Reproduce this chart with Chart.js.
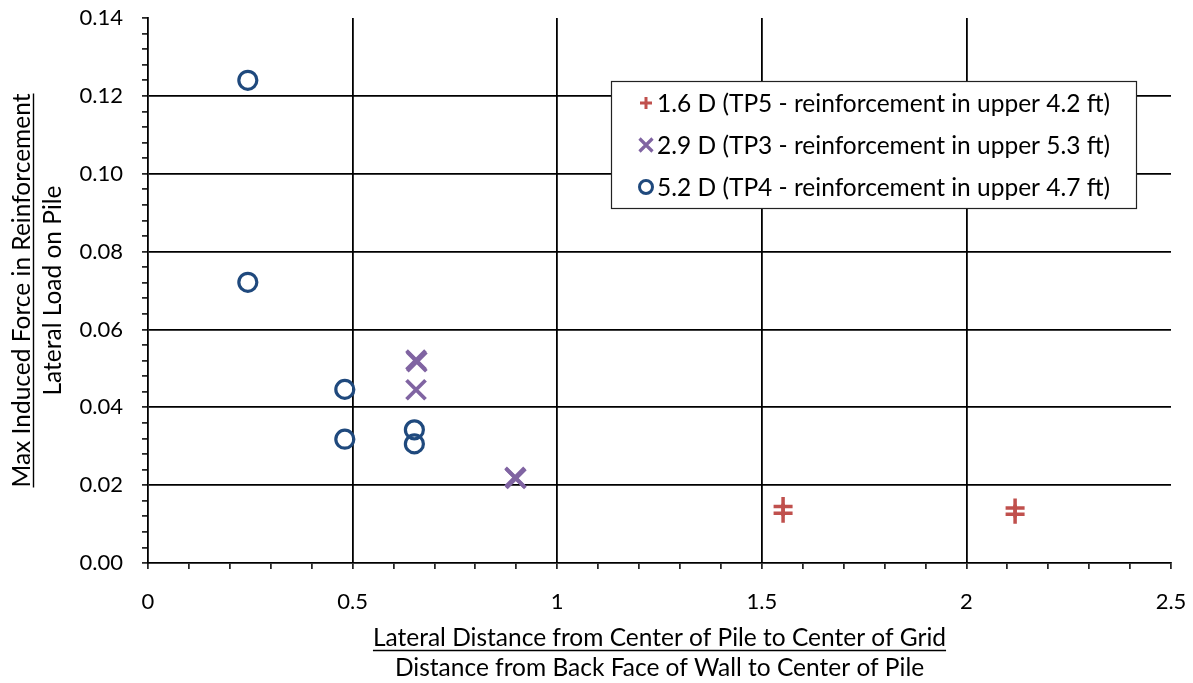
<!DOCTYPE html>
<html>
<head>
<meta charset="utf-8">
<script src="https://cdn.jsdelivr.net/npm/chart.js@4.4.0/dist/chart.umd.min.js"></script>
<style>
  html, body { margin: 0; background: #fff; }
</style>
</head>
<body>
<canvas id="c" width="1193" height="683"></canvas>
<script>
// data
const tp5 = [ // 1.6 D
  { x: 1.552, y: 0.0145 }, { x: 1.552, y: 0.0128 },
  { x: 2.119, y: 0.0141 }, { x: 2.119, y: 0.0125 },
];
const tp3 = [ // 2.9 D
  { x: 0.655, y: 0.0521 }, { x: 0.657, y: 0.0517 },
  { x: 0.655, y: 0.0445 },
  { x: 0.897, y: 0.0220 }, { x: 0.899, y: 0.0217 },
];
const tp4 = [ // 5.2 D
  { x: 0.244, y: 0.1240 }, { x: 0.244, y: 0.0721 },
  { x: 0.481, y: 0.0446 }, { x: 0.481, y: 0.0318 },
  { x: 0.651, y: 0.0342 }, { x: 0.651, y: 0.0306 },
];
const seriesLabels = [
  '1.6 D (TP5 - reinforcement in upper 4.2 ft)',
  '2.9 D (TP3 - reinforcement in upper 5.3 ft)',
  '5.2 D (TP4 - reinforcement in upper 4.7 ft)',
];
const xTickLabels = ['0', '0.5', '1', '1.5', '2', '2.5'];
const yTickLabels = ['0.00', '0.02', '0.04', '0.06', '0.08', '0.10', '0.12', '0.14'];
const xTitle = ['Lateral Distance from Center of Pile to Center of Grid', 'Distance from Back Face of Wall to Center of Pile'];
const yTitle = ['Max Induced Force in Reinforcement', 'Lateral Load on Pile'];

const RED = '#C0504D', PURPLE = '#8064A2', BLUE = '#1F497D';
const FONT = 'Lato, "Open Sans", sans-serif';

// gridline only on majors, not on the axis itself or at the far end
const gridColor = (n) => c => {
  if (c.type !== 'tick') return 'rgba(0,0,0,0)';
  return (c.index % 5 === 0 && c.index > 0 && c.index < n) ? '#000' : 'rgba(0,0,0,0)';
};

function marker(ctx, style, x, y, r, color, w) {
  ctx.save();
  ctx.strokeStyle = color; ctx.lineWidth = w;
  ctx.beginPath();
  if (style === 'circle') ctx.arc(x, y, r, 0, Math.PI * 2);
  else if (style === 'cross') { ctx.moveTo(x - r, y); ctx.lineTo(x + r, y); ctx.moveTo(x, y - r); ctx.lineTo(x, y + r); }
  else { ctx.moveTo(x - r, y - r); ctx.lineTo(x + r, y + r); ctx.moveTo(x + r, y - r); ctx.lineTo(x - r, y + r); }
  ctx.stroke();
  ctx.restore();
}

const titles = {
  id: 'titles',
  afterDraw(chart) {
    const { ctx, chartArea: a } = chart;
    ctx.save();
    ctx.fillStyle = '#000'; ctx.strokeStyle = '#000'; ctx.lineWidth = 1.4;
    ctx.font = '24.5px ' + FONT;
    ctx.textAlign = 'center'; ctx.textBaseline = 'alphabetic';
    const cx = (a.left + a.right) / 2;
    // x title
    ctx.fillText(xTitle[0], cx, 646);
    let w = ctx.measureText(xTitle[0]).width;
    ctx.beginPath(); ctx.moveTo(cx - w / 2, 650.5); ctx.lineTo(cx + w / 2, 650.5); ctx.stroke();
    ctx.fillText(xTitle[1], cx, 676);
    // y title
    const cy = (a.top + a.bottom) / 2;
    ctx.translate(0, cy); ctx.rotate(-Math.PI / 2);
    ctx.fillText(yTitle[0], 0, 30);
    w = ctx.measureText(yTitle[0]).width;
    ctx.beginPath(); ctx.moveTo(-w / 2, 33.5); ctx.lineTo(w / 2, 33.5); ctx.stroke();
    ctx.fillText(yTitle[1], 0, 61);
    ctx.restore();
  }
};

const boxLegend = {
  id: 'boxLegend',
  afterDraw(chart) {
    const ctx = chart.ctx;
    ctx.save();
    ctx.fillStyle = '#fff'; ctx.fillRect(611, 81, 525, 127);
    ctx.strokeStyle = '#222'; ctx.lineWidth = 1.2; ctx.strokeRect(611.5, 81.5, 525, 127);
    const styles = [['cross', RED, 6, 3], ['x', PURPLE, 6.5, 3.2], ['circle', BLUE, 6.5, 3]];
    ctx.font = '24.5px ' + FONT; ctx.fillStyle = '#000';
    ctx.textAlign = 'left'; ctx.textBaseline = 'middle';
    seriesLabels.forEach((t, i) => {
      const y = 103 + i * 42;
      marker(ctx, styles[i][0], 646, y, styles[i][2], styles[i][1], styles[i][3]);
      ctx.fillText(t, 657, y + 1);
    });
    ctx.restore();
  }
};

const pointPlug = {
  id: 'pts',
  afterDatasetsDraw(chart) {
    const ctx = chart.ctx;
    const sx = chart.scales.x, sy = chart.scales.y;
    const sets = [[tp5, 'cross', RED, 9.5, 3.5], [tp3, 'x', PURPLE, 9.5, 3.8], [tp4, 'circle', BLUE, 9, 3.2]];
    for (const [d, st, col, r, w] of sets)
      for (const p of d) marker(ctx, st, sx.getPixelForValue(p.x), sy.getPixelForValue(p.y), r, col, w);
  }
};

new Chart(document.getElementById('c'), {
  type: 'scatter',
  data: {
    datasets: [
      { label: seriesLabels[0], data: tp5, pointRadius: 0, pointHoverRadius: 0, borderColor: RED },
      { label: seriesLabels[1], data: tp3, pointRadius: 0, pointHoverRadius: 0, borderColor: PURPLE },
      { label: seriesLabels[2], data: tp4, pointRadius: 0, pointHoverRadius: 0, borderColor: BLUE },
    ]
  },
  options: {
    responsive: false, animation: false,
    layout: { padding: { top: 18, right: 22, left: 0, bottom: 0 } },
    plugins: { legend: { display: false }, tooltip: { enabled: false } },
    scales: {
      x: {
        type: 'linear', min: 0, max: 2.5,
        afterFit: s => { s.height = 120; s.paddingLeft = 0; s.paddingRight = 0; },
        border: { display: true, color: '#000', width: 1.8 },
        grid: { color: gridColor(25), lineWidth: 1.8, tickColor: '#000', tickWidth: 1.5, tickLength: 6, drawTicks: true },
        ticks: {
          stepSize: 0.1, autoSkip: false, maxRotation: 0, padding: 20, color: '#000',
          font: { family: FONT, size: 22 },
          callback: (v, i) => i % 5 === 0 ? xTickLabels[i / 5] : ''
        }
      },
      y: {
        type: 'linear', min: 0, max: 0.14,
        afterFit: s => { s.width = 148; s.paddingTop = 0; s.paddingBottom = 0; },
        border: { display: true, color: '#000', width: 1.8 },
        grid: { color: gridColor(35), lineWidth: 1.8, tickColor: '#000', tickWidth: 1.5, tickLength: 6, drawTicks: true },
        ticks: {
          stepSize: 0.004, autoSkip: false, padding: 19, color: '#000',
          font: { family: FONT, size: 22 },
          callback: (v, i) => i % 5 === 0 ? yTickLabels[i / 5] : ''
        }
      }
    }
  },
  plugins: [pointPlug, boxLegend, titles]
});
</script>
</body>
</html>
